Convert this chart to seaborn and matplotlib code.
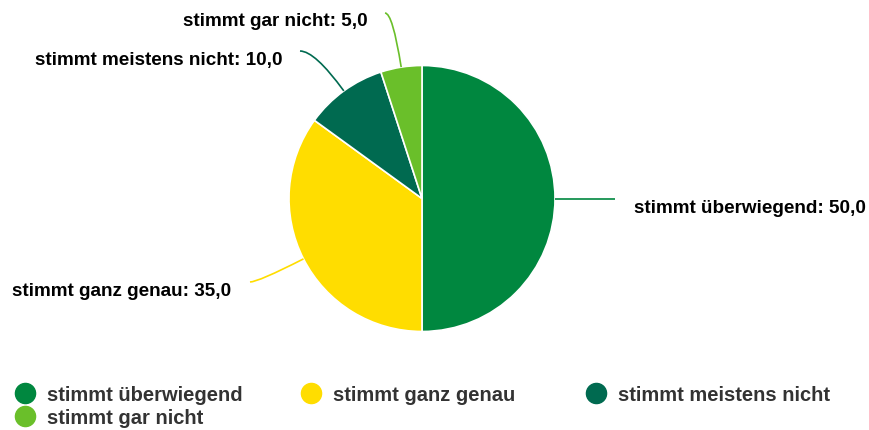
import numpy as np
import matplotlib
matplotlib.use("Agg")
import matplotlib.pyplot as plt
from matplotlib.path import Path
from matplotlib.patches import PathPatch
from matplotlib.lines import Line2D
import seaborn as sns

categories = ["stimmt überwiegend", "stimmt ganz genau", "stimmt meistens nicht", "stimmt gar nicht"]
values = [50.0, 35.0, 10.0, 5.0]
colors = ["#00873F", "#FFDD00", "#006A50", "#6ABF2A"]

sns.set_theme(style="white")
plt.rcParams['font.family'] = ['Liberation Sans', 'DejaVu Sans']

W, H = 870, 431
fig = plt.figure(figsize=(W / 100, H / 100), dpi=100)
ax = fig.add_axes([0, 0, 1, 1])

cx, cy, R = 422, H - 199.5, 133
wedges, _ = ax.pie(values, colors=colors, startangle=90, counterclock=False,
                   center=(cx, cy), radius=R, frame=True,
                   wedgeprops=dict(edgecolor="white", linewidth=1.2))
ax.set_xlim(0, W)
ax.set_ylim(0, H)
ax.set_aspect('equal')
ax.axis('off')

# connector end (x, y) and label side
label_ends = [(615, cy, 'left'), (250, H - 283, 'right'),
              (300, H - 52, 'right'), (385, H - 14, 'right')]
text_offsets = [(19, -9), (-19, -9), (-17, -9), (-17, -7)]

for w, cat, val, col, (ex, ey, side), (tx, ty) in zip(wedges, categories, values, colors, label_ends, text_offsets):
    mid = np.deg2rad((w.theta1 + w.theta2) / 2)
    dx, dy = np.cos(mid), np.sin(mid)
    sx, sy = cx + R * dx, cy + R * dy
    if abs(dy) < 1e-6:
        verts = [(sx, sy), (ex, ey)]
        codes = [Path.MOVETO, Path.LINETO]
    else:
        t = (ey - sy) / dy
        ctrl = (sx + t * dx, ey)
        verts = [(sx, sy), ctrl, (ex, ey)]
        codes = [Path.MOVETO, Path.CURVE3, Path.CURVE3]
    ax.add_patch(PathPatch(Path(verts, codes), fill=False, edgecolor=col, linewidth=1.2))
    ha = 'left' if side == 'left' else 'right'
    ax.text(ex + tx, ey + ty, f"{cat}: {val:.1f}".replace('.', ','), ha=ha, va='center',
            fontsize=13.6, fontweight='bold', color='black')

# legend in three columns, rows filled left to right
columns = [[0, 3], [1], [2]]
col_x = [15, 301, 586]
for idxs, x0 in zip(columns, col_x):
    handles = [Line2D([], [], marker='o', linestyle='', markersize=14.5, markerfacecolor=colors[i],
                      markeredgecolor=colors[i]) for i in idxs]
    leg = fig.legend(handles, [categories[i] for i in idxs], loc='upper left',
                     bbox_to_anchor=(x0 / W, 1 - 386 / H), frameon=False,
                     handletextpad=0.6, labelspacing=0.2, handlelength=1.0,
                     borderaxespad=0, borderpad=0, prop=dict(weight='bold', size=14.5))
    for t in leg.get_texts():
        t.set_color('#333333')

fig.savefig("out.png", dpi=100)
